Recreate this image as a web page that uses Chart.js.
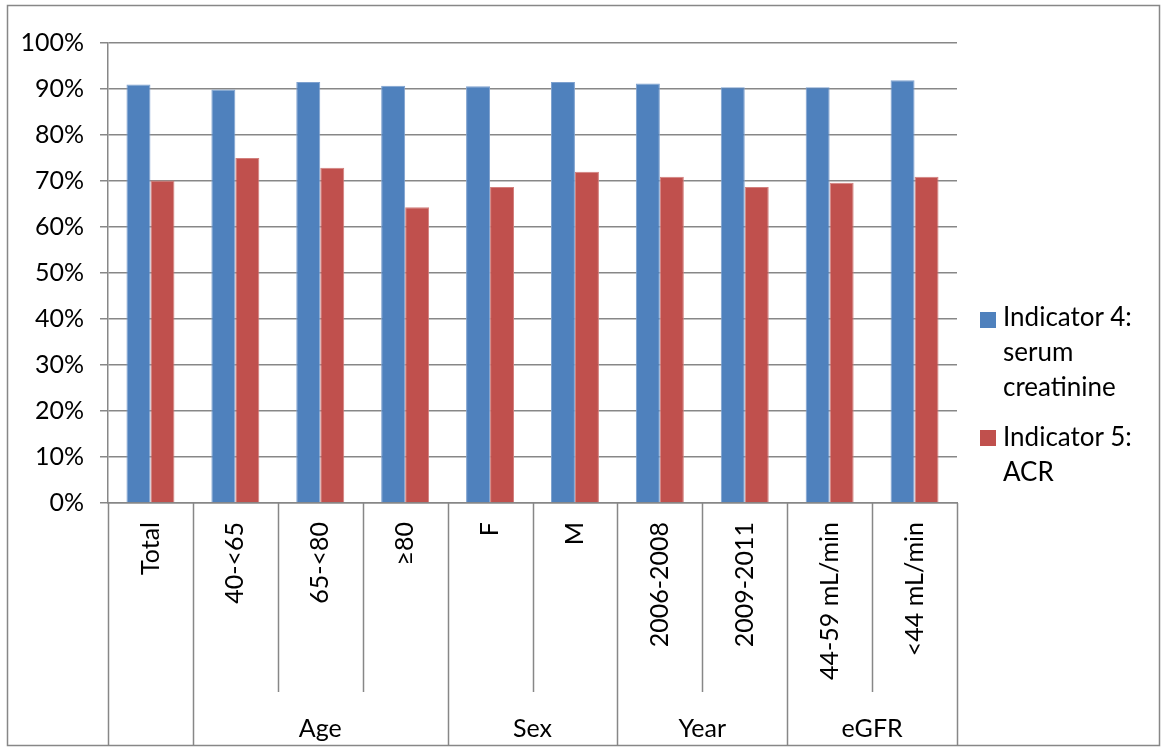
<!DOCTYPE html>
<html>
<head>
<meta charset="utf-8">
<script src="https://cdn.jsdelivr.net/npm/chart.js@4"></script>
<style>
  body { margin: 0; background: #fff; }
  #wrap { position: relative; width: 1163px; height: 749px; }
  .legend { position: absolute; font-family: Lato, sans-serif; font-size: 26px; line-height: 35px; color: #000; }
  .sw { position: absolute; width: 16px; height: 16px; }
</style>
</head>
<body>
<div id="wrap">
  <canvas id="chart" width="1163" height="749"></canvas>
  <div class="sw" style="left:980px; top:312px; background:#4F81BD;"></div>
  <div class="legend" style="left:1003px; top:299px;">Indicator 4:<br>serum<br>creatinine</div>
  <div class="sw" style="left:980px; top:430px; background:#C0504D;"></div>
  <div class="legend" style="left:1003px; top:419px;">Indicator 5:<br>ACR</div>
</div>
<script>
// categories and groups
const categories = ['Total', '40-<65', '65-<80', '≥80', 'F', 'M', '2006-2008', '2009-2011', '44-59 mL/min', '<44 mL/min'];
const groupNames = ['', 'Age', 'Sex', 'Year', 'eGFR'];
const groupSizes = [1, 3, 2, 2, 2];

// values (fractions)
const serumCreatinine = [0.910, 0.899, 0.915, 0.907, 0.906, 0.915, 0.912, 0.904, 0.904, 0.919];
const acr = [0.701, 0.750, 0.729, 0.643, 0.687, 0.720, 0.709, 0.687, 0.696, 0.709];

const yTicks = [0, 0.1, 0.2, 0.3, 0.4, 0.5, 0.6, 0.7, 0.8, 0.9, 1.0];

const lineGrey = '#878787';
const fontFamily = 'Lato, sans-serif';

// separators, group labels and outer frame
const groupPlugin = {
    id: 'groupPlugin',
    beforeDraw(chart) {
        const ctx = chart.ctx;
        ctx.save();
        ctx.fillStyle = '#fff';
        ctx.fillRect(0, 0, chart.width, chart.height);
        ctx.restore();
    },
    afterDraw(chart) {
        const ctx = chart.ctx;
        const x = chart.scales.x;
        const area = chart.chartArea;
        const step = x.getPixelForValue(1) - x.getPixelForValue(0);
        const edge = i => x.getPixelForValue(0) - step / 2 + i * step;

        // group boundaries (full height)
        const fullIdx = [0];
        let acc = 0;
        groupSizes.forEach(s => { acc += s; fullIdx.push(acc); });

        ctx.save();
        ctx.strokeStyle = lineGrey;
        ctx.lineWidth = 1.5;
        for (let i = 0; i <= categories.length; i++) {
            const px = Math.round(edge(i)) + 0.5;
            const bottom = fullIdx.includes(i) ? 745 : 692;
            ctx.beginPath();
            ctx.moveTo(px, area.bottom);
            ctx.lineTo(px, bottom);
            ctx.stroke();
        }

        // group labels
        ctx.fillStyle = '#000';
        ctx.font = '25px ' + fontFamily;
        ctx.textAlign = 'center';
        ctx.textBaseline = 'middle';
        let start = 0;
        groupSizes.forEach((s, g) => {
            const cx = (edge(start) + edge(start + s)) / 2;
            if (groupNames[g]) ctx.fillText(groupNames[g], cx, 729);
            start += s;
        });

        // outer frame
        ctx.strokeStyle = lineGrey;
        ctx.lineWidth = 1.5;
        ctx.strokeRect(7.5, 5.5, 1152, 740);
        ctx.restore();
    }
};

const ctx = document.getElementById('chart').getContext('2d');
new Chart(ctx, {
    type: 'bar',
    data: {
        labels: categories,
        datasets: [
            {
                label: 'Indicator 4: serum creatinine',
                data: serumCreatinine,
                backgroundColor: '#4F81BD',
                borderColor: '#7EA1CF',
                borderWidth: 1,
                barPercentage: 1,
                categoryPercentage: 0.565
            },
            {
                label: 'Indicator 5: ACR',
                data: acr,
                backgroundColor: '#C0504D',
                borderColor: '#D27F7C',
                borderWidth: 1,
                barPercentage: 1,
                categoryPercentage: 0.565
            }
        ]
    },
    options: {
        responsive: false,
        animation: false,
        layout: { padding: { left: 8, top: 43, right: 206, bottom: 4 } },
        plugins: {
            legend: { display: false },
            tooltip: { enabled: false }
        },
        scales: {
            x: {
                afterFit: scale => { scale.height = 242; },
                grid: { display: false, drawTicks: false },
                border: { display: true, color: lineGrey, width: 1.5 },
                ticks: {
                    autoSkip: false,
                    minRotation: 90,
                    maxRotation: 90,
                    padding: 19,
                    color: '#000',
                    font: { family: fontFamily, size: 25 }
                }
            },
            y: {
                min: 0,
                max: 1,
                afterFit: scale => { scale.width = 100; },
                afterBuildTicks: scale => { scale.ticks = yTicks.map(v => ({ value: v })); },
                grid: { color: lineGrey, lineWidth: 1.5, tickLength: 8, drawTicks: true },
                border: { display: true, color: lineGrey, width: 1.5 },
                ticks: {
                    padding: 16,
                    color: '#000',
                    font: { family: fontFamily, size: 25 },
                    callback: v => Math.round(v * 100) + '%'
                }
            }
        }
    },
    plugins: [groupPlugin]
});
</script>
</body>
</html>
